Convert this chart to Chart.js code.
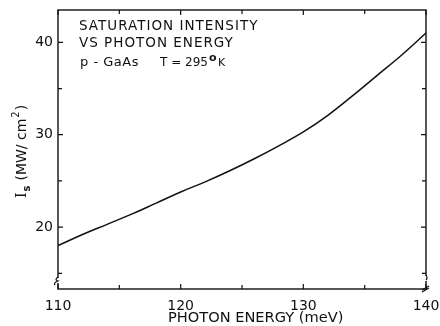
<!DOCTYPE html>
<html>
<head>
<meta charset="utf-8">
<script src="https://cdn.jsdelivr.net/npm/chart.js@4.4.1/dist/chart.umd.min.js"></script>
<style>
  html, body { margin: 0; padding: 0; background: #fff; }
  #wrap { width: 440px; height: 326px; }
</style>
</head>
<body>
<div id="wrap"><canvas id="chart" width="440" height="326"></canvas></div>
<script>
// ---- data ----
const energy = [110, 112, 114, 116, 118, 120, 122, 124, 126, 128, 130, 132, 134, 136, 138, 140];
const intensity = [18.0, 19.2, 20.3, 21.4, 22.6, 23.8, 24.9, 26.1, 27.4, 28.8, 30.3, 32.1, 34.2, 36.4, 38.6, 41.0];

const xTicks = [110, 120, 130, 140];
const xMinor = [115, 125, 135];
const yTicks = [20, 30, 40];
const yMinor = [15, 25, 35];

const noteLines = ["SATURATION INTENSITY", "VS PHOTON ENERGY"];
const xTitle = "PHOTON ENERGY (meV)";
const FONT = "'DejaVu Sans', sans-serif";
const INK = "#111";

// frame, inward ticks, axis breaks, note and axis titles
const framePlugin = {
    id: "frame",
    afterDraw(chart) {
        const ctx = chart.ctx;
        const a = chart.chartArea;
        const xs = chart.scales.x, ys = chart.scales.y;
        ctx.save();
        ctx.strokeStyle = INK;
        ctx.lineWidth = 1.4;
        ctx.strokeRect(a.left, a.top, a.right - a.left, a.bottom - a.top);

        ctx.lineWidth = 1.2;
        ctx.beginPath();
        xTicks.concat(xMinor).forEach(v => {
            const px = xs.getPixelForValue(v);
            const len = xTicks.includes(v) ? 5 : 4;
            ctx.moveTo(px, a.bottom); ctx.lineTo(px, a.bottom - len);
            ctx.moveTo(px, a.top); ctx.lineTo(px, a.top + len);
        });
        yTicks.concat(yMinor).forEach(v => {
            const py = ys.getPixelForValue(v);
            const len = yTicks.includes(v) ? 5 : 4;
            ctx.moveTo(a.left, py); ctx.lineTo(a.left + len, py);
            ctx.moveTo(a.right, py); ctx.lineTo(a.right - len, py);
        });
        ctx.stroke();

        // axis break marks near the bottom
        ctx.fillStyle = "#fff";
        ctx.fillRect(a.left - 2, a.bottom - 11, 4, 5);
        ctx.fillRect(a.right - 2, a.bottom - 13, 4, 5);
        ctx.beginPath();
        ctx.moveTo(a.left, a.bottom - 12);
        ctx.quadraticCurveTo(a.left - 4, a.bottom - 9, a.left, a.bottom - 8);
        ctx.quadraticCurveTo(a.left - 5, a.bottom - 6, a.left - 3, a.bottom - 4);
        ctx.moveTo(a.right, a.bottom - 14);
        ctx.quadraticCurveTo(a.right + 2, a.bottom - 11, a.right, a.bottom - 9);
        ctx.moveTo(a.right - 4, a.bottom + 1); ctx.lineTo(a.right + 3, a.bottom - 3);
        ctx.moveTo(a.right - 4, a.bottom + 3); ctx.lineTo(a.right + 3, a.bottom - 1);
        ctx.stroke();

        // note text
        ctx.fillStyle = INK;
        ctx.textAlign = "left";
        ctx.textBaseline = "alphabetic";
        ctx.letterSpacing = "1px";
        ctx.font = "13.5px " + FONT;
        ctx.fillText(noteLines[0], 79, 30);
        ctx.fillText(noteLines[1], 79, 47);
        ctx.letterSpacing = "0.5px";
        ctx.font = "13px " + FONT;
        ctx.fillText("p - GaAs", 80, 66);
        ctx.letterSpacing = "0px";
        ctx.font = "12px " + FONT;
        ctx.fillText("T = 295", 160, 66);
        ctx.font = "bold 11px " + FONT;
        ctx.fillText("o", 209, 61);
        ctx.font = "11px " + FONT;
        ctx.fillText("K", 218, 66);

        // x axis title
        ctx.font = "14.6px " + FONT;
        ctx.fillText(xTitle, 168, 322);

        // y axis title, rotated
        ctx.translate(26, 146);
        ctx.rotate(-Math.PI / 2);
        ctx.font = "14px 'DejaVu Serif', serif";
        let x0 = -52;
        ctx.fillText("I", x0, 0);
        x0 += ctx.measureText("I").width;
        ctx.font = "bold 10px " + FONT;
        ctx.fillText("s", x0 + 1, 4);
        x0 += ctx.measureText("s").width + 6;
        ctx.font = "14px " + FONT;
        ctx.fillText("(MW/ cm", x0, 0);
        x0 += ctx.measureText("(MW/ cm").width;
        ctx.font = "10px " + FONT;
        ctx.fillText("2", x0 + 1, -7);
        x0 += ctx.measureText("2").width + 2;
        ctx.font = "14px " + FONT;
        ctx.fillText(")", x0, 0);
        ctx.restore();
    }
};

new Chart(document.getElementById("chart"), {
    type: "line",
    data: {
        datasets: [{
            data: energy.map((e, i) => ({ x: e, y: intensity[i] })),
            borderColor: INK,
            borderWidth: 1.5,
            pointRadius: 0,
            tension: 0.4,
            fill: false
        }]
    },
    options: {
        responsive: false,
        animation: false,
        layout: { padding: { left: 0, right: 14, top: 10, bottom: 0 } },
        plugins: { legend: { display: false }, tooltip: { enabled: false } },
        scales: {
            x: {
                type: "linear",
                min: 110, max: 140,
                afterBuildTicks: s => { s.ticks = xTicks.map(v => ({ value: v })); },
                afterFit: s => { s.height = 37; s.paddingLeft = 0; s.paddingRight = 0; },
                grid: { display: false, drawTicks: false },
                border: { display: false },
                ticks: { color: INK, padding: 9, font: { family: FONT, size: 14 } }
            },
            y: {
                type: "linear",
                min: 13.3, max: 43.5,
                afterBuildTicks: s => { s.ticks = yTicks.map(v => ({ value: v })); },
                afterFit: s => { s.width = 58; s.paddingTop = 0; s.paddingBottom = 0; },
                grid: { display: false, drawTicks: false },
                border: { display: false },
                ticks: { color: INK, padding: 5, font: { family: FONT, size: 14 } }
            }
        }
    },
    plugins: [framePlugin]
});
</script>
</body>
</html>
